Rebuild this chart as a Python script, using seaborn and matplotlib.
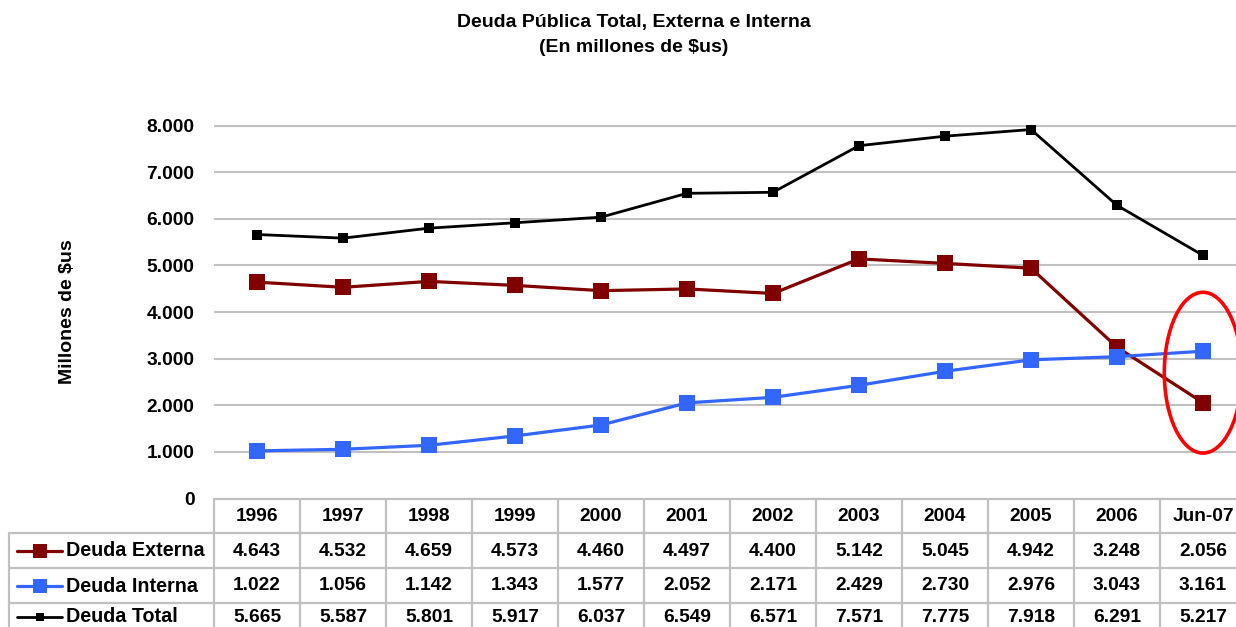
import matplotlib
matplotlib.use("Agg")
import matplotlib.pyplot as plt
import seaborn as sns
import pandas as pd
from matplotlib.patches import Ellipse
from matplotlib.lines import Line2D

sns.set_theme(style="white")
plt.rcParams['font.family'] = ['Liberation Sans', 'DejaVu Sans']
plt.rcParams['font.weight'] = 'bold'
plt.rcParams['text.color'] = 'black'
plt.rcParams['axes.labelcolor'] = 'black'
plt.rcParams['ytick.color'] = 'black'

periods = ["1996", "1997", "1998", "1999", "2000", "2001", "2002", "2003", "2004", "2005", "2006", "Jun-07"]
externa = [4643, 4532, 4659, 4573, 4460, 4497, 4400, 5142, 5045, 4942, 3248, 2056]
interna = [1022, 1056, 1142, 1343, 1577, 2052, 2171, 2429, 2730, 2976, 3043, 3161]
total = [5665, 5587, 5801, 5917, 6037, 6549, 6571, 7571, 7775, 7918, 6291, 5217]
series_names = ["Deuda Externa", "Deuda Interna", "Deuda Total"]
yticks = [0, 1000, 2000, 3000, 4000, 5000, 6000, 7000, 8000]

colors = ["#800000", "#3366FF", "#000000"]
msizes = [11, 11, 6.5]
lwidths = [2.3, 2.3, 2.0]

W, H = 1236, 627
fig = plt.figure(figsize=(W / 100, H / 100), dpi=100)

col_left, col_w = 214, 86.0
n = len(periods)
px_per_k = 46.6
y0 = 498.5
top_y = y0 - 9 * px_per_k
ax = fig.add_axes([col_left / W, 1 - y0 / H, n * col_w / W, (y0 - top_y) / H])
ax.set_facecolor("none")

x_idx = list(range(n))
for vals, c, ms, lw, name in zip([externa, interna, total], colors, msizes, lwidths, series_names):
    df = pd.DataFrame({"x": x_idx, "y": vals})
    sns.lineplot(data=df, x="x", y="y", ax=ax, color=c, linewidth=lw,
                 marker="s", markersize=ms, markeredgewidth=0, zorder=3)

ax.set_xlim(-0.5, n - 0.5)
ax.set_ylim(0, 9000)
ax.set_yticks(yticks)
ax.set_yticklabels([f"{v:,}".replace(",", ".") for v in yticks], fontsize=13.8, fontweight="bold")
ax.set_xticks([])
ax.set_xlabel("")
ax.set_ylabel("Millones de $us", fontsize=14, fontweight="bold", va="center")
ax.yaxis.set_label_coords((67 - col_left) / (n * col_w), (y0 - 312) / (y0 - top_y))
ax.tick_params(axis="y", length=0, pad=14)
for s in ax.spines.values():
    s.set_visible(False)
ax.grid(axis="y", color="#c0c0c0", linewidth=1.5)
ax.set_axisbelow(True)

# highlight ellipse around the last period
ell = Ellipse((n - 1, 2700), 0.9, 3450, fill=False, edgecolor="#ff0000",
              linewidth=2.6, zorder=4, clip_on=False)
ax.add_patch(ell)

# title
fig.text(634 / W, 1 - 22 / H, "Deuda Pública Total, Externa e Interna", ha="center", va="center",
         fontsize=14, fontweight="bold")
fig.text(634 / W, 1 - 48 / H, "(En millones de $us)", ha="center", va="center",
         fontsize=14, fontweight="bold")

# data table
tb = fig.add_axes([0, 0, 1, 1], zorder=-1)
tb.set_xlim(0, W)
tb.set_ylim(H, 0)
tb.axis("off")
gc = "#c0c0c0"
glw = 1.6
rows_y = [498.5, 533, 568, 603, 638]
text_y = [516.5, 551, 586, 617]
lab_left = 9
tb.plot([col_left, W], [rows_y[0]] * 2, color=gc, lw=glw)
for yy in rows_y[1:]:
    tb.plot([lab_left, W], [yy] * 2, color=gc, lw=glw)
tb.plot([lab_left, lab_left], [rows_y[1], H], color=gc, lw=glw)
for i in range(n + 1):
    xx = col_left + i * col_w
    tb.plot([xx, xx], [rows_y[0], H], color=gc, lw=glw)

for i, p in enumerate(periods):
    xc = col_left + (i + 0.5) * col_w
    tb.text(xc, text_y[0], p, ha="center", va="center", fontsize=13.8, fontweight="bold")
leg_ms = [9.5, 9.5, 6]
for r, (vals, name, c, ms, lw) in enumerate(zip([externa, interna, total], series_names, colors, leg_ms, lwidths)):
    yc = text_y[r + 1]
    for i, v in enumerate(vals):
        xc = col_left + (i + 0.5) * col_w
        tb.text(xc, yc, f"{v:,}".replace(",", "."), ha="center", va="center", fontsize=13.8, fontweight="bold")
    tb.add_line(Line2D([17, 39.5, 62], [yc, yc, yc], color=c, lw=lw, marker="s", markersize=ms,
                       markevery=[1], markeredgewidth=0))
    tb.text(66, yc, name, ha="left", va="center", fontsize=14.2, fontweight="bold")

fig.savefig("out.png", dpi=100)
